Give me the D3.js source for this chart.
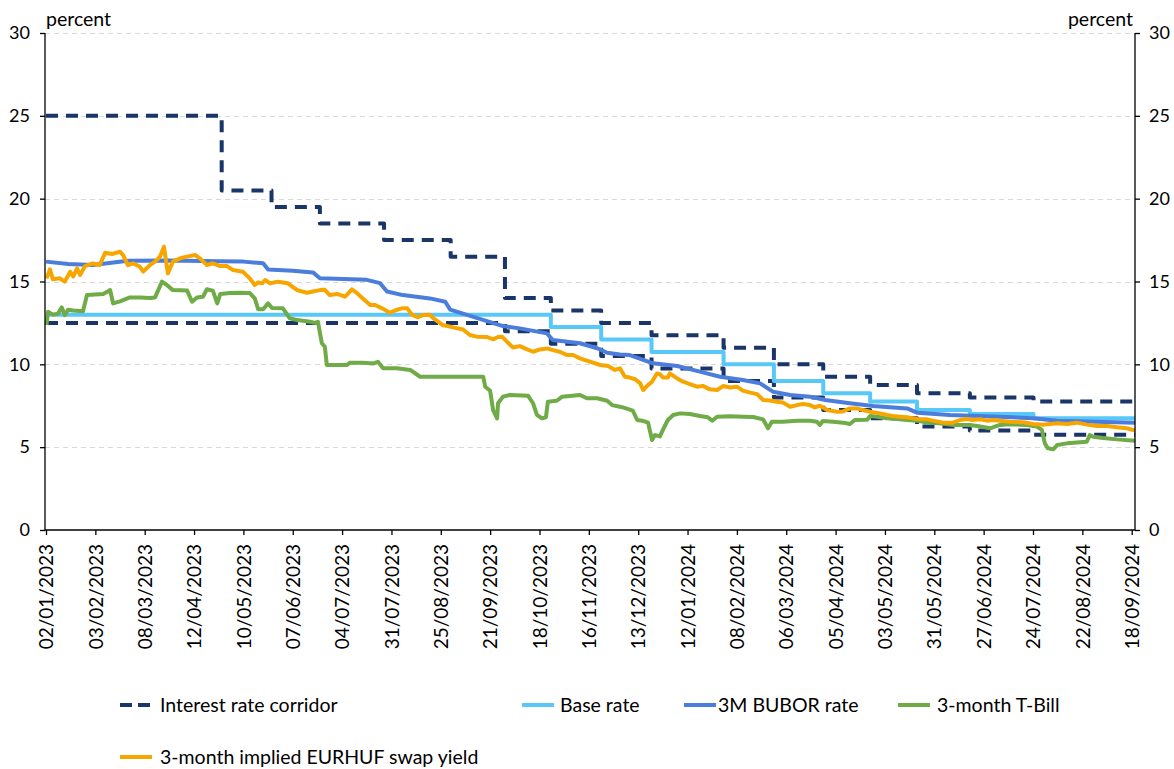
<!DOCTYPE html>
<html>
<head>
<meta charset="utf-8">
<script src="https://cdn.jsdelivr.net/npm/d3@7"></script>
<style>
  body { margin: 0; background: #fff; }
  text { font-family: Lato, "Open Sans", sans-serif; fill: #000; }
</style>
</head>
<body>
<div id="chart"></div>
<script>
// x positions are in "label steps": 0 = first date label, 1 = next label, ...
const tickLabels = [
  '02/01/2023', '03/02/2023', '08/03/2023', '12/04/2023', '10/05/2023', '07/06/2023',
  '04/07/2023', '31/07/2023', '25/08/2023', '21/09/2023', '18/10/2023', '16/11/2023',
  '13/12/2023', '12/01/2024', '08/02/2024', '06/03/2024', '05/04/2024', '03/05/2024',
  '31/05/2024', '27/06/2024', '24/07/2024', '22/08/2024', '18/09/2024'
]
const yTicks = [0, 5, 10, 15, 20, 25, 30]
const lastPos = 22.07

// policy rate decisions (position where the new value starts)
const rateChangeAt = [0, 3.56, 4.57, 5.55, 6.85, 8.2, 9.3, 10.23, 11.25, 12.27, 13.73, 14.75, 15.75, 16.7, 17.65, 18.72, 20.01]
const corridorUpper = [25, 20.5, 19.5, 18.5, 17.5, 16.5, 14, 13.25, 12.5, 11.75, 11, 10, 9.25, 8.75, 8.25, 8, 7.75]
const corridorLower = [12.5, 12.5, 12.5, 12.5, 12.5, 12.5, 12, 11.25, 10.5, 9.75, 9, 8, 7.25, 6.75, 6.25, 6, 5.75]
const baseRate = [13, 13, 13, 13, 13, 13, 13, 12.25, 11.5, 10.75, 10, 9, 8.25, 7.75, 7.25, 7, 6.75]

const bubor = [
  [0, 16.2], [0.45, 16.05], [0.95, 16.0], [1.66, 16.25], [2.5, 16.27], [3.5, 16.22], [4.0, 16.2],
  [4.4, 16.1], [4.5, 15.72], [5.0, 15.65], [5.41, 15.55], [5.55, 15.2], [6.5, 15.1], [6.77, 14.9],
  [6.91, 14.4], [7.23, 14.18], [7.78, 13.98], [8.09, 13.78], [8.19, 13.3], [9.26, 12.31], [9.6, 12.17],
  [10.15, 11.87], [10.27, 11.47], [10.82, 11.27], [11.17, 10.97], [11.37, 10.7], [11.63, 10.6],
  [11.83, 10.56], [12.3, 10.06], [12.79, 9.9], [13.25, 9.56], [13.66, 9.25], [14.12, 9.05],
  [14.47, 8.85], [14.73, 8.35], [15.08, 8.15], [15.48, 8.05], [15.79, 7.85], [16.29, 7.65],
  [16.76, 7.48], [17.45, 7.34], [17.65, 7.08], [18.32, 6.94], [19.33, 6.84], [20.0, 6.74],
  [20.49, 6.6], [22.07, 6.48]
]

const tBill = [
  [0.01, 12.37], [0.04, 13.18], [0.14, 13.0], [0.24, 13.05], [0.32, 13.44], [0.38, 12.97], [0.45, 13.3],
  [0.55, 13.25], [0.75, 13.2], [0.83, 14.18], [1.16, 14.25], [1.3, 14.48], [1.36, 13.68], [1.5, 13.8],
  [1.7, 14.04], [1.9, 14.04], [2.11, 14.0], [2.21, 14.04], [2.35, 14.99], [2.45, 14.79], [2.57, 14.48],
  [2.86, 14.45], [2.96, 13.78], [3.06, 14.04], [3.18, 14.08], [3.26, 14.53], [3.38, 14.45], [3.47, 13.68],
  [3.53, 14.24], [3.73, 14.3], [3.93, 14.32], [4.13, 14.3], [4.23, 13.98], [4.3, 13.32], [4.4, 13.32],
  [4.5, 13.68], [4.58, 13.4], [4.8, 13.38], [4.94, 12.78], [5.09, 12.67], [5.35, 12.57], [5.45, 12.5],
  [5.51, 12.57], [5.59, 11.27], [5.65, 11.06], [5.69, 9.96], [5.9, 9.96], [6.1, 9.96], [6.16, 10.1],
  [6.42, 10.1], [6.63, 10.05], [6.73, 10.15], [6.83, 9.76], [7.11, 9.76], [7.38, 9.66], [7.58, 9.25],
  [7.78, 9.25], [8.86, 9.25], [8.9, 8.65], [9.0, 8.4], [9.06, 7.24], [9.14, 6.74], [9.16, 7.65],
  [9.26, 8.05], [9.4, 8.15], [9.77, 8.1], [9.87, 7.65], [9.95, 6.94], [10.05, 6.74], [10.13, 6.8],
  [10.17, 7.74], [10.35, 7.8], [10.46, 8.05], [10.82, 8.15], [10.96, 7.95], [11.17, 7.95], [11.37, 7.8],
  [11.47, 7.54], [11.63, 7.44], [11.69, 7.4], [11.89, 7.2], [11.98, 6.64], [12.08, 6.6], [12.2, 6.48],
  [12.28, 5.43], [12.34, 5.73], [12.44, 5.65], [12.5, 6.04], [12.6, 6.64], [12.71, 6.94], [12.85, 7.04],
  [13.05, 7.0], [13.25, 6.88], [13.41, 6.8], [13.5, 6.6], [13.6, 6.84], [13.86, 6.86], [14.12, 6.84],
  [14.33, 6.82], [14.53, 6.68], [14.63, 6.14], [14.71, 6.54], [14.93, 6.54], [15.22, 6.6], [15.48, 6.6],
  [15.62, 6.54], [15.68, 6.34], [15.74, 6.58], [15.95, 6.54], [16.15, 6.48], [16.29, 6.4], [16.39, 6.64],
  [16.64, 6.66], [16.7, 6.88], [16.84, 6.84], [17.04, 6.74], [17.24, 6.7], [17.45, 6.64], [17.65, 6.6],
  [17.85, 6.48], [18.11, 6.45], [18.38, 6.34], [18.72, 6.34], [18.87, 6.28], [19.13, 6.14], [19.27, 6.28],
  [19.33, 6.34], [19.53, 6.38], [19.88, 6.34], [20.08, 6.24], [20.18, 6.04], [20.24, 5.23], [20.3, 4.93],
  [20.41, 4.87], [20.49, 5.13], [20.69, 5.23], [20.89, 5.28], [21.09, 5.33], [21.15, 5.73], [21.22, 5.63],
  [21.42, 5.55], [21.7, 5.47], [22.07, 5.39]
]

const swapYield = [
  [0.01, 15.19], [0.08, 15.73], [0.14, 15.13], [0.28, 15.19], [0.38, 14.99], [0.49, 15.59], [0.55, 15.3],
  [0.63, 15.79], [0.69, 15.39], [0.79, 15.93], [0.95, 16.09], [1.09, 16.0], [1.2, 16.74], [1.34, 16.66],
  [1.5, 16.8], [1.56, 16.6], [1.66, 15.99], [1.76, 16.1], [1.9, 15.9], [1.97, 15.6], [2.11, 16.0],
  [2.21, 16.2], [2.31, 16.5], [2.39, 17.1], [2.47, 15.49], [2.57, 16.2], [2.72, 16.4], [2.86, 16.5],
  [3.02, 16.6], [3.12, 16.4], [3.26, 15.99], [3.38, 16.1], [3.53, 15.93], [3.67, 15.93], [3.79, 15.69],
  [3.99, 15.59], [4.13, 15.19], [4.23, 14.79], [4.3, 14.95], [4.38, 14.89], [4.44, 15.09], [4.54, 14.89],
  [4.7, 14.99], [4.9, 14.89], [5.09, 14.48], [5.29, 14.32], [5.41, 14.4], [5.55, 14.48], [5.65, 14.5],
  [5.75, 14.18], [5.9, 14.25], [6.06, 14.08], [6.2, 14.53], [6.3, 14.3], [6.42, 13.98], [6.57, 13.58],
  [6.67, 13.58], [6.81, 13.38], [6.97, 13.12], [7.07, 13.25], [7.21, 13.38], [7.32, 13.38], [7.42, 12.98],
  [7.54, 12.84], [7.64, 12.98], [7.78, 13.0], [7.84, 12.8], [8.04, 12.37], [8.25, 12.23], [8.45, 12.1],
  [8.59, 11.77], [8.73, 11.67], [8.94, 11.65], [9.06, 11.51], [9.16, 11.65], [9.24, 11.67], [9.34, 11.37],
  [9.46, 11.02], [9.6, 11.1], [9.75, 10.9], [9.87, 10.76], [10.01, 10.9], [10.15, 10.96], [10.27, 10.86],
  [10.41, 10.76], [10.56, 10.56], [10.68, 10.56], [10.82, 10.36], [11.02, 10.16], [11.23, 9.96],
  [11.39, 9.9], [11.53, 9.66], [11.63, 9.76], [11.73, 9.25], [11.83, 9.2], [11.94, 9.1], [12.04, 8.85],
  [12.1, 8.45], [12.18, 8.7], [12.28, 8.95], [12.38, 9.45], [12.44, 9.4], [12.5, 9.21], [12.6, 9.2],
  [12.64, 9.45], [12.79, 9.15], [12.91, 8.95], [13.05, 8.81], [13.19, 8.65], [13.31, 8.7], [13.45, 8.49],
  [13.6, 8.45], [13.72, 8.69], [13.86, 8.6], [14.0, 8.65], [14.12, 8.41], [14.27, 8.29], [14.41, 8.2],
  [14.53, 7.85], [14.67, 7.82], [14.81, 7.74], [14.93, 7.7], [15.08, 7.44], [15.22, 7.54], [15.34, 7.6],
  [15.48, 7.54], [15.58, 7.4], [15.68, 7.5], [15.83, 7.24], [16.03, 7.14], [16.15, 7.16], [16.29, 7.34],
  [16.43, 7.34], [16.55, 7.24], [16.7, 7.14], [16.9, 7.04], [17.04, 6.94], [17.16, 6.88], [17.3, 6.84],
  [17.45, 6.8], [17.65, 6.7], [17.85, 6.68], [17.97, 6.6], [18.18, 6.48], [18.38, 6.48], [18.52, 6.64],
  [18.66, 6.7], [18.78, 6.64], [18.93, 6.68], [19.07, 6.6], [19.19, 6.64], [19.33, 6.6], [19.53, 6.54],
  [19.8, 6.5], [20.0, 6.4], [20.2, 6.36], [20.49, 6.44], [20.69, 6.4], [20.89, 6.48], [21.09, 6.36],
  [21.3, 6.28], [21.5, 6.28], [21.7, 6.2], [21.9, 6.14], [22.07, 6.0]
]

const colors = {
  corridor: '#1a3568',
  base: '#58c8f8',
  bubor: '#4a7ddc',
  tbill: '#6fab46',
  swap: '#f7a600'
}

const width = 1174
const height = 769
const plotLeft = 45
const plotRight = 1135
const lineWidth = 4

const x = d3.scaleLinear().domain([0, 22]).range([46, 1131.7])
const y = d3.scaleLinear().domain([0, 30]).range([530, 33])

const svg = d3.select('#chart').append('svg')
  .attr('width', width)
  .attr('height', height)
  .attr('viewBox', `0 0 ${width} ${height}`)

// gridlines
svg.append('g')
  .selectAll('line')
  .data(yTicks.filter(d => d > 0))
  .join('line')
  .attr('x1', plotLeft)
  .attr('x2', plotRight)
  .attr('y1', d => Math.round(y(d)) + 0.5)
  .attr('y2', d => Math.round(y(d)) + 0.5)
  .attr('stroke', '#d9d9d9')
  .attr('stroke-width', 1.2)
  .attr('stroke-dasharray', '5,4')

const line = d3.line()
  .x(d => x(d[0]))
  .y(d => y(d[1]))

const stepLine = d3.line()
  .x(d => x(d[0]))
  .y(d => y(d[1]))
  .curve(d3.curveStepAfter)

const steps = (vals) => rateChangeAt.map((t, i) => [t, vals[i]]).concat([[lastPos, vals[vals.length - 1]]])

const series = svg.append('g')
  .attr('fill', 'none')
  .attr('stroke-linejoin', 'round')

series.append('path')
  .attr('d', stepLine(steps(corridorUpper)))
  .attr('stroke', colors.corridor)
  .attr('stroke-width', lineWidth)
  .attr('stroke-dasharray', '12,8')

series.append('path')
  .attr('d', stepLine(steps(corridorLower)))
  .attr('stroke', colors.corridor)
  .attr('stroke-width', lineWidth)
  .attr('stroke-dasharray', '12,8')

series.append('path')
  .attr('d', stepLine(steps(baseRate)))
  .attr('stroke', colors.base)
  .attr('stroke-width', lineWidth)

series.append('path')
  .attr('d', line(bubor))
  .attr('stroke', colors.bubor)
  .attr('stroke-width', lineWidth)

series.append('path')
  .attr('d', line(tBill))
  .attr('stroke', colors.tbill)
  .attr('stroke-width', lineWidth)

series.append('path')
  .attr('d', line(swapYield))
  .attr('stroke', colors.swap)
  .attr('stroke-width', lineWidth)

// axes
const yAxisLeft = d3.axisLeft(y).tickValues(yTicks).tickSize(5).tickSizeOuter(0).tickPadding(10)
const yAxisRight = d3.axisRight(y).tickValues(yTicks).tickSize(5).tickSizeOuter(0).tickPadding(9)

const styleAxis = (g) => {
  g.select('.domain').remove()
  g.selectAll('line').attr('stroke', '#000').attr('stroke-width', 1.3)
  g.selectAll('text').attr('font-size', 18).attr('font-family', 'Lato, "Open Sans", sans-serif')
}

svg.append('g')
  .attr('transform', `translate(${plotLeft},0)`)
  .call(yAxisLeft)
  .call(styleAxis)

svg.append('g')
  .attr('transform', `translate(${plotRight},0)`)
  .call(yAxisRight)
  .call(styleAxis)

const xAxis = d3.axisBottom(x)
  .tickValues(d3.range(tickLabels.length))
  .tickFormat(i => tickLabels[i])
  .tickSize(5)
  .tickSizeOuter(0)

svg.append('g')
  .attr('transform', `translate(0,${y(0)})`)
  .call(xAxis)
  .call(styleAxis)
  .call(g => g.selectAll('text')
    .attr('transform', 'rotate(-90)')
    .attr('text-anchor', 'end')
    .attr('x', -14)
    .attr('y', 0)
    .attr('dy', '0.35em')
    .attr('font-size', 19))

// frame lines
svg.append('line')
  .attr('x1', plotLeft).attr('x2', plotLeft)
  .attr('y1', y(30)).attr('y2', y(0))
  .attr('stroke', '#000').attr('stroke-width', 1.3)
svg.append('line')
  .attr('x1', plotRight).attr('x2', plotRight)
  .attr('y1', y(30)).attr('y2', y(0))
  .attr('stroke', '#000').attr('stroke-width', 1.3)
svg.append('line')
  .attr('x1', plotLeft).attr('x2', plotRight)
  .attr('y1', y(0)).attr('y2', y(0))
  .attr('stroke', '#000').attr('stroke-width', 1.6)

// unit labels
svg.append('text')
  .attr('x', 46)
  .attr('y', 26)
  .attr('font-size', 19.5)
  .text('percent')

svg.append('text')
  .attr('x', 1133)
  .attr('y', 26)
  .attr('text-anchor', 'end')
  .attr('font-size', 19.5)
  .text('percent')

// legend
const legendItems = [
  { label: 'Interest rate corridor', color: colors.corridor, dash: '12,6', mx: 120, tx: 160, ly: 705 },
  { label: 'Base rate', color: colors.base, dash: null, mx: 522, tx: 560, ly: 705 },
  { label: '3M BUBOR rate', color: colors.bubor, dash: null, mx: 684, tx: 718, ly: 705 },
  { label: '3-month T-Bill', color: colors.tbill, dash: null, mx: 898, tx: 937, ly: 705 },
  { label: '3-month implied EURHUF swap yield', color: colors.swap, dash: null, mx: 120, tx: 160, ly: 757 }
]

const legend = svg.append('g')
  .selectAll('g')
  .data(legendItems)
  .join('g')

legend.append('line')
  .attr('x1', d => d.mx)
  .attr('x2', d => d.mx + 32)
  .attr('y1', d => d.ly)
  .attr('y2', d => d.ly)
  .attr('stroke', d => d.color)
  .attr('stroke-width', 4)
  .attr('stroke-dasharray', d => d.dash)

legend.append('text')
  .attr('x', d => d.tx)
  .attr('y', d => d.ly)
  .attr('dy', '0.35em')
  .attr('font-size', 19.5)
  .text(d => d.label)
</script>
</body>
</html>
